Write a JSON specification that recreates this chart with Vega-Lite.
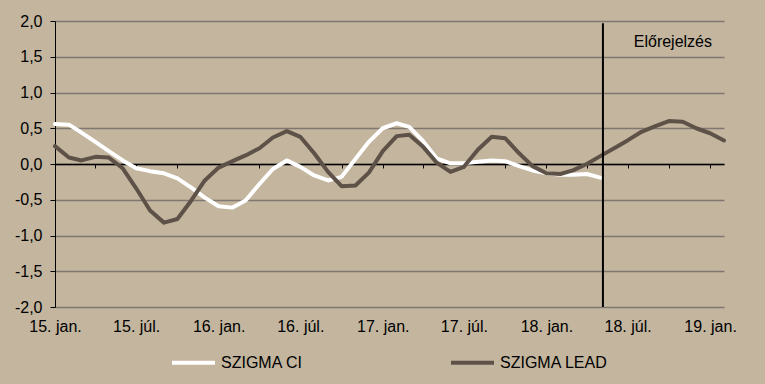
{
  "$schema": "https://vega.github.io/schema/vega-lite/v6.json",
  "width": 669,
  "height": 286,
  "autosize": "none",
  "padding": {"left": 55, "top": 21, "right": 41, "bottom": 77},
  "background": "#C3B59E",
  "config": {
    "view": {"stroke": null},
    "font": "Liberation Sans",
    "axis": {"labelFont": "Liberation Sans", "labelFontSize": 16, "labelColor": "#000000"},
    "axisY": {
      "title": null,
      "values": [-2, -1.5, -1, -0.5, 0, 0.5, 1, 1.5, 2],
      "labelExpr": "replace((datum.value < 0 ? '-' : '') + format(abs(datum.value), '.1f'), '.', ',')",
      "domain": true,
      "domainColor": "#000000",
      "domainWidth": 1,
      "ticks": true,
      "tickColor": "#000000",
      "tickSize": 5,
      "labelPadding": 8,
      "grid": true,
      "gridColor": "#807870",
      "gridWidth": 1.6,
      "gridOpacity": 1
    },
    "legend": {"labelFont": "Liberation Sans", "labelFontSize": 16, "labelColor": "#000000"},
    "text": {"font": "Liberation Sans"}
  },
  "resolve": {"axis": {"x": "independent"}},
  "layer": [
    {
      "data": {
        "values": [
          {"date": "2015-01-01", "series": "SZIGMA CI", "value": 0.56},
          {"date": "2015-02-01", "series": "SZIGMA CI", "value": 0.55},
          {"date": "2015-03-01", "series": "SZIGMA CI", "value": 0.44},
          {"date": "2015-04-01", "series": "SZIGMA CI", "value": 0.31},
          {"date": "2015-05-01", "series": "SZIGMA CI", "value": 0.18},
          {"date": "2015-06-01", "series": "SZIGMA CI", "value": 0.05},
          {"date": "2015-07-01", "series": "SZIGMA CI", "value": -0.06},
          {"date": "2015-08-01", "series": "SZIGMA CI", "value": -0.10},
          {"date": "2015-09-01", "series": "SZIGMA CI", "value": -0.13},
          {"date": "2015-10-01", "series": "SZIGMA CI", "value": -0.20},
          {"date": "2015-11-01", "series": "SZIGMA CI", "value": -0.33},
          {"date": "2015-12-01", "series": "SZIGMA CI", "value": -0.47},
          {"date": "2016-01-01", "series": "SZIGMA CI", "value": -0.59},
          {"date": "2016-02-01", "series": "SZIGMA CI", "value": -0.61},
          {"date": "2016-03-01", "series": "SZIGMA CI", "value": -0.51},
          {"date": "2016-04-01", "series": "SZIGMA CI", "value": -0.28},
          {"date": "2016-05-01", "series": "SZIGMA CI", "value": -0.07},
          {"date": "2016-06-01", "series": "SZIGMA CI", "value": 0.05},
          {"date": "2016-07-01", "series": "SZIGMA CI", "value": -0.04},
          {"date": "2016-08-01", "series": "SZIGMA CI", "value": -0.16},
          {"date": "2016-09-01", "series": "SZIGMA CI", "value": -0.23},
          {"date": "2016-10-01", "series": "SZIGMA CI", "value": -0.18},
          {"date": "2016-11-01", "series": "SZIGMA CI", "value": 0.07},
          {"date": "2016-12-01", "series": "SZIGMA CI", "value": 0.31},
          {"date": "2017-01-01", "series": "SZIGMA CI", "value": 0.50},
          {"date": "2017-02-01", "series": "SZIGMA CI", "value": 0.57},
          {"date": "2017-03-01", "series": "SZIGMA CI", "value": 0.52},
          {"date": "2017-04-01", "series": "SZIGMA CI", "value": 0.32},
          {"date": "2017-05-01", "series": "SZIGMA CI", "value": 0.08},
          {"date": "2017-06-01", "series": "SZIGMA CI", "value": 0.01},
          {"date": "2017-07-01", "series": "SZIGMA CI", "value": 0.01},
          {"date": "2017-08-01", "series": "SZIGMA CI", "value": 0.03},
          {"date": "2017-09-01", "series": "SZIGMA CI", "value": 0.05},
          {"date": "2017-10-01", "series": "SZIGMA CI", "value": 0.04},
          {"date": "2017-11-01", "series": "SZIGMA CI", "value": -0.03},
          {"date": "2017-12-01", "series": "SZIGMA CI", "value": -0.09},
          {"date": "2018-01-01", "series": "SZIGMA CI", "value": -0.13},
          {"date": "2018-02-01", "series": "SZIGMA CI", "value": -0.15},
          {"date": "2018-03-01", "series": "SZIGMA CI", "value": -0.15},
          {"date": "2018-04-01", "series": "SZIGMA CI", "value": -0.14},
          {"date": "2018-05-01", "series": "SZIGMA CI", "value": -0.19},
          {"date": "2015-01-01", "series": "SZIGMA LEAD", "value": 0.25},
          {"date": "2015-02-01", "series": "SZIGMA LEAD", "value": 0.09},
          {"date": "2015-03-01", "series": "SZIGMA LEAD", "value": 0.05},
          {"date": "2015-04-01", "series": "SZIGMA LEAD", "value": 0.10},
          {"date": "2015-05-01", "series": "SZIGMA LEAD", "value": 0.09},
          {"date": "2015-06-01", "series": "SZIGMA LEAD", "value": -0.06},
          {"date": "2015-07-01", "series": "SZIGMA LEAD", "value": -0.34},
          {"date": "2015-08-01", "series": "SZIGMA LEAD", "value": -0.65},
          {"date": "2015-09-01", "series": "SZIGMA LEAD", "value": -0.82},
          {"date": "2015-10-01", "series": "SZIGMA LEAD", "value": -0.77},
          {"date": "2015-11-01", "series": "SZIGMA LEAD", "value": -0.51},
          {"date": "2015-12-01", "series": "SZIGMA LEAD", "value": -0.23},
          {"date": "2016-01-01", "series": "SZIGMA LEAD", "value": -0.05},
          {"date": "2016-02-01", "series": "SZIGMA LEAD", "value": 0.04},
          {"date": "2016-03-01", "series": "SZIGMA LEAD", "value": 0.12},
          {"date": "2016-04-01", "series": "SZIGMA LEAD", "value": 0.22},
          {"date": "2016-05-01", "series": "SZIGMA LEAD", "value": 0.37},
          {"date": "2016-06-01", "series": "SZIGMA LEAD", "value": 0.46},
          {"date": "2016-07-01", "series": "SZIGMA LEAD", "value": 0.38},
          {"date": "2016-08-01", "series": "SZIGMA LEAD", "value": 0.15},
          {"date": "2016-09-01", "series": "SZIGMA LEAD", "value": -0.11},
          {"date": "2016-10-01", "series": "SZIGMA LEAD", "value": -0.31},
          {"date": "2016-11-01", "series": "SZIGMA LEAD", "value": -0.30},
          {"date": "2016-12-01", "series": "SZIGMA LEAD", "value": -0.12},
          {"date": "2017-01-01", "series": "SZIGMA LEAD", "value": 0.18},
          {"date": "2017-02-01", "series": "SZIGMA LEAD", "value": 0.39},
          {"date": "2017-03-01", "series": "SZIGMA LEAD", "value": 0.41},
          {"date": "2017-04-01", "series": "SZIGMA LEAD", "value": 0.24},
          {"date": "2017-05-01", "series": "SZIGMA LEAD", "value": 0.02},
          {"date": "2017-06-01", "series": "SZIGMA LEAD", "value": -0.11},
          {"date": "2017-07-01", "series": "SZIGMA LEAD", "value": -0.04},
          {"date": "2017-08-01", "series": "SZIGMA LEAD", "value": 0.20},
          {"date": "2017-09-01", "series": "SZIGMA LEAD", "value": 0.38},
          {"date": "2017-10-01", "series": "SZIGMA LEAD", "value": 0.36},
          {"date": "2017-11-01", "series": "SZIGMA LEAD", "value": 0.15},
          {"date": "2017-12-01", "series": "SZIGMA LEAD", "value": -0.03},
          {"date": "2018-01-01", "series": "SZIGMA LEAD", "value": -0.13},
          {"date": "2018-02-01", "series": "SZIGMA LEAD", "value": -0.14},
          {"date": "2018-03-01", "series": "SZIGMA LEAD", "value": -0.09},
          {"date": "2018-04-01", "series": "SZIGMA LEAD", "value": 0.00},
          {"date": "2018-05-01", "series": "SZIGMA LEAD", "value": 0.11},
          {"date": "2018-06-01", "series": "SZIGMA LEAD", "value": 0.22},
          {"date": "2018-07-01", "series": "SZIGMA LEAD", "value": 0.33},
          {"date": "2018-08-01", "series": "SZIGMA LEAD", "value": 0.45},
          {"date": "2018-09-01", "series": "SZIGMA LEAD", "value": 0.53},
          {"date": "2018-10-01", "series": "SZIGMA LEAD", "value": 0.60},
          {"date": "2018-11-01", "series": "SZIGMA LEAD", "value": 0.59},
          {"date": "2018-12-01", "series": "SZIGMA LEAD", "value": 0.50},
          {"date": "2019-01-01", "series": "SZIGMA LEAD", "value": 0.43},
          {"date": "2019-02-01", "series": "SZIGMA LEAD", "value": 0.33}
        ]
      },
      "mark": {"type": "line", "strokeWidth": 4, "strokeJoin": "round", "strokeCap": "round"},
      "encoding": {
        "x": {
          "field": "date",
          "type": "temporal",
          "scale": {"type": "utc", "domain": ["2015-01-01", "2019-02-01"]},
          "axis": {
            "title": null,
            "orient": "bottom",
            "domain": false,
            "ticks": false,
            "tickSize": 0,
            "grid": false,
            "labelPadding": 11,
            "tickCount": {"interval": "month", "step": 3},
            "labelOverlap": false,
            "labelFlush": false,
            "labelBound": false,
            "labelExpr": "utcmonth(datum.value) == 0 ? utcFormat(datum.value, '%y') + '. jan.' : (utcmonth(datum.value) == 6 ? utcFormat(datum.value, '%y') + '. júl.' : '')"
          }
        },
        "y": {
          "field": "value",
          "type": "quantitative",
          "scale": {"domain": [-2, 2], "nice": false, "zero": false},
          "axis": {"values": [-2, -1.5, -1, -0.5, 0, 0.5, 1, 1.5, 2]}
        },
        "color": {
          "field": "series",
          "type": "nominal",
          "scale": {"domain": ["SZIGMA CI", "SZIGMA LEAD"], "range": ["#FFFFFF", "#5E5248"]},
          "legend": {
            "title": null,
            "orient": "none",
            "direction": "horizontal",
            "legendX": 115,
            "legendY": 318,
            "symbolType": "stroke",
            "symbolSize": 1849,
            "symbolStrokeWidth": 4,
            "labelOffset": 4,
            "columnPadding": 140
          }
        }
      }
    },
    {
      "data": {"values": [{"date": "2018-05-07", "value": 1.97, "bottom": -2.0}]},
      "mark": {"type": "rule", "color": "#000000", "strokeWidth": 2},
      "encoding": {
        "x": {
          "field": "date",
          "type": "temporal",
          "axis": {
            "title": null,
            "orient": "bottom",
            "offset": -143,
            "labels": false,
            "grid": false,
            "domain": true,
            "domainColor": "#000000",
            "domainWidth": 1.5,
            "ticks": true,
            "tickColor": "#000000",
            "tickSize": 4,
            "tickWidth": 1,
            "tickCount": {"interval": "month", "step": 3}
          }
        },
        "y": {"field": "value", "type": "quantitative", "axis": {"values": [-2, -1.5, -1, -0.5, 0, 0.5, 1, 1.5, 2]}},
        "y2": {"field": "bottom"}
      }
    },
    {
      "data": {"values": [{"date": "2018-10-10", "value": 1.7, "label": "Előrejelzés"}]},
      "mark": {"type": "text", "fontSize": 16, "color": "#000000", "align": "center", "baseline": "middle"},
      "encoding": {
        "x": {"field": "date", "type": "temporal", "axis": null},
        "y": {"field": "value", "type": "quantitative", "axis": {"values": [-2, -1.5, -1, -0.5, 0, 0.5, 1, 1.5, 2]}},
        "text": {"field": "label"}
      }
    }
  ]
}
